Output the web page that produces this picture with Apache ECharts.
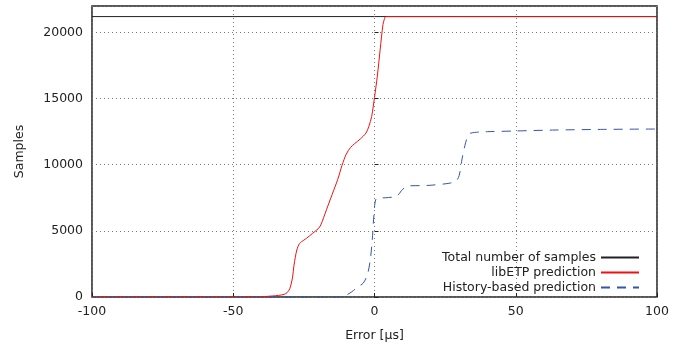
<!DOCTYPE html>
<html>
<head>
<meta charset="utf-8">
<script src="https://cdn.jsdelivr.net/npm/echarts@6/dist/echarts.min.js"></script>
<style>
  html, body { margin: 0; padding: 0; background: #fff; }
  #chart { width: 691px; height: 347px; }
</style>
</head>
<body>
<div id="chart"></div>
<script>
// values
var totalX = [-100, 100]
var totalY = [21200, 21200]

var libX = [-100, -45, -40, -36, -34, -32, -31, -30, -29, -28.5, -27.5, -26.5, -25, -24, -22, -20, -19, -17, -15, -13, -11.5, -10, -8.5, -7, -5, -3, -2, -1, 0, 1, 2, 3, 3.5, 4, 100]
var libY = [0, 0, 20, 80, 120, 200, 320, 620, 1500, 2400, 3550, 4050, 4300, 4450, 4800, 5150, 5450, 6600, 7750, 8900, 9950, 10800, 11300, 11600, 11950, 12400, 12900, 13650, 15100, 16700, 18700, 20600, 21000, 21200, 21200]

var histX = [-100, -13, -10, -8, -6, -4, -2.5, -1.5, -0.8, -0.2, 0.5, 2, 5, 8, 10, 12, 16, 20, 27, 29, 30, 31, 32, 33, 34, 37, 40, 50, 63, 80, 100]
var histY = [0, 0, 150, 400, 750, 1050, 1700, 2800, 4300, 6200, 7400, 7480, 7520, 7650, 8150, 8400, 8420, 8450, 8620, 8800, 9200, 10450, 11450, 12150, 12380, 12470, 12500, 12550, 12620, 12670, 12700]

var seriesNames = ["Total number of samples", "libETP prediction", "History-based prediction"]

function pairs(xs, ys) {
  return xs.map(function (x, i) { return [x, ys[i]] })
}

var font = "DejaVu Sans"
var chart = echarts.init(document.getElementById("chart"))
chart.setOption({
  animation: false,
  textStyle: { fontFamily: font },
  grid: {
    left: 92, right: 34, top: 6, bottom: 48,
    show: true, borderColor: "#222", borderWidth: 1.5, backgroundColor: "transparent"
  },
  legend: {
    orient: "vertical",
    align: "right",
    right: 51,
    bottom: 53,
    padding: 0,
    itemWidth: 38,
    itemHeight: 14,
    itemGap: 2,
    itemStyle: { opacity: 0 },
    textStyle: { fontFamily: font, fontSize: 12.5, color: "#222" },
    data: seriesNames
  },
  xAxis: {
    type: "value",
    min: -100, max: 100, interval: 50,
    name: "Error [µs]",
    nameLocation: "middle",
    nameGap: 32,
    nameTextStyle: { fontFamily: font, fontSize: 12.5, color: "#222" },
    axisLine: { show: false },
    axisTick: { inside: true, length: 4, lineStyle: { color: "#222" } },
    axisLabel: { margin: 8, fontFamily: font, fontSize: 12.5, color: "#222" },
    splitLine: { show: true, lineStyle: { color: "#777", type: [1, 3], width: 1 } }
  },
  yAxis: {
    type: "value",
    min: 0, max: 22000, interval: 5000,
    name: "Samples",
    nameLocation: "middle",
    nameGap: 66,
    nameTextStyle: { fontFamily: font, fontSize: 12.5, color: "#222" },
    axisLine: { show: false },
    axisTick: { inside: true, length: 4, lineStyle: { color: "#222" } },
    axisLabel: {
      margin: 9, fontFamily: font, fontSize: 12.5, color: "#222", showMaxLabel: false,
      formatter: function (v) { return String(v) }
    },
    splitLine: { show: true, lineStyle: { color: "#777", type: [1, 3], width: 1 } }
  },
  series: [
    {
      name: seriesNames[0],
      type: "line",
      showSymbol: false, symbol: "none",
      lineStyle: { color: "#222", width: 1 },
      itemStyle: { color: "#222" },
      data: pairs(totalX, totalY)
    },
    {
      name: seriesNames[1],
      type: "line",
      showSymbol: false, symbol: "none",
      smooth: 0.3,
      lineStyle: { color: "#ee1111", width: 1 },
      itemStyle: { color: "#ee1111" },
      data: pairs(libX, libY)
    },
    {
      name: seriesNames[2],
      type: "line",
      showSymbol: false, symbol: "none",
      smooth: 0.3,
      lineStyle: { color: "#3355aa", width: 1, type: [9, 7] },
      itemStyle: { color: "#3355aa" },
      data: pairs(histX, histY)
    }
  ]
})
</script>
</body>
</html>
